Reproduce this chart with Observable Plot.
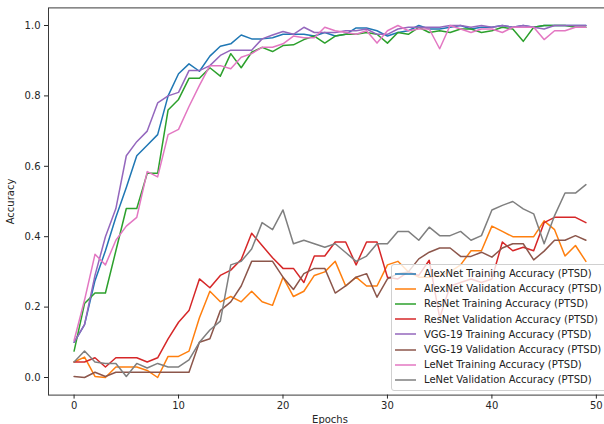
<!DOCTYPE html>
<html>
<head>
<meta charset="utf-8">
<script src="https://cdn.jsdelivr.net/npm/d3@7"></script>
<script src="https://cdn.jsdelivr.net/npm/@observablehq/plot@0.6"></script>
<style>
  html, body { margin: 0; padding: 0; background: #fff; overflow: hidden; }
  #wrap { position: relative; width: 604px; height: 424px; }
  #legend {
    position: absolute; left: 391px; top: 264px; width: 240px;
    padding: 1px 0 2px 0; box-sizing: content-box;
    background: rgba(255,255,255,0.8); border: 1px solid #d0d0d0; border-radius: 3px;
    font-family: "DejaVu Sans", sans-serif; font-size: 10px; color: #222;
  }
  #legend .row { display: flex; align-items: center; height: 15.2px; white-space: nowrap; }
  #legend svg { margin-left: 3px; margin-right: 8px; flex: none; }
</style>
</head>
<body>
<div id="wrap"><div id="chart"></div><div id="legend"></div></div>
<script>
const epochs = [0,1,2,3,4,5,6,7,8,9,10,11,12,13,14,15,16,17,18,19,20,21,22,23,24,25,26,27,28,29,30,31,32,33,34,35,36,37,38,39,40,41,42,43,44,45,46,47,48,49];

const seriesNames = [
  "AlexNet Training Accuracy (PTSD)",
  "AlexNet Validation Accuracy (PTSD)",
  "ResNet Training Accuracy (PTSD)",
  "ResNet Validation Accuracy (PTSD)",
  "VGG-19 Training Accuracy (PTSD)",
  "VGG-19 Validation Accuracy (PTSD)",
  "LeNet Training Accuracy (PTSD)",
  "LeNet Validation Accuracy (PTSD)"
];
const seriesColors = ["#1f77b4","#ff7f0e","#2ca02c","#d62728","#9467bd","#8c564b","#e377c2","#7f7f7f"];

const alexTrain = [0.10,0.15,0.275,0.36,0.455,0.54,0.63,0.66,0.69,0.80,0.863,0.891,0.87,0.913,0.941,0.948,0.973,0.962,0.962,0.965,0.975,0.975,0.975,0.97,0.98,0.97,0.975,0.993,0.993,0.985,0.97,0.98,0.985,1.0,0.99,0.99,0.995,1.0,0.99,0.995,0.995,1.0,0.995,1.0,0.995,1.0,1.0,1.0,1.0,1.0];
const alexVal = [0.044,0.058,0.003,0.0,0.03,0.03,0.03,0.02,0.0,0.06,0.06,0.075,0.17,0.245,0.215,0.23,0.215,0.245,0.215,0.205,0.285,0.23,0.245,0.29,0.30,0.33,0.26,0.285,0.26,0.26,0.32,0.33,0.30,0.285,0.285,0.29,0.30,0.32,0.36,0.36,0.43,0.415,0.40,0.40,0.40,0.445,0.42,0.345,0.375,0.33];
const resTrain = [0.075,0.21,0.24,0.24,0.36,0.48,0.48,0.58,0.58,0.76,0.79,0.85,0.85,0.88,0.856,0.92,0.88,0.924,0.938,0.926,0.943,0.945,0.96,0.97,0.95,0.97,0.975,0.975,0.98,0.975,0.95,0.98,0.975,0.995,0.98,0.985,0.98,0.99,0.99,0.98,0.985,0.995,0.99,0.955,0.995,1.0,1.0,1.0,0.995,0.995];
const resVal = [0.044,0.044,0.056,0.03,0.056,0.056,0.056,0.044,0.056,0.11,0.157,0.19,0.28,0.255,0.29,0.305,0.335,0.41,0.375,0.34,0.31,0.31,0.27,0.345,0.345,0.385,0.385,0.32,0.385,0.385,0.285,0.28,0.30,0.29,0.333,0.17,0.26,0.27,0.28,0.27,0.28,0.385,0.36,0.37,0.36,0.44,0.455,0.455,0.455,0.44];
const vggTrain = [0.10,0.15,0.29,0.40,0.48,0.63,0.67,0.70,0.78,0.80,0.81,0.872,0.872,0.886,0.915,0.93,0.93,0.93,0.962,0.973,0.983,0.975,0.995,0.98,0.98,0.98,0.985,0.985,0.99,0.975,0.975,0.99,0.995,0.995,0.995,0.995,1.0,1.0,0.995,1.0,0.995,1.0,0.995,1.0,0.995,0.99,1.0,1.0,1.0,1.0];
const vggVal = [0.003,0.0,0.015,0.003,0.015,0.015,0.015,0.015,0.015,0.015,0.015,0.015,0.10,0.11,0.19,0.215,0.26,0.33,0.33,0.33,0.285,0.25,0.295,0.31,0.31,0.24,0.26,0.285,0.295,0.228,0.28,0.295,0.30,0.337,0.356,0.368,0.368,0.344,0.344,0.356,0.342,0.368,0.38,0.38,0.334,0.359,0.39,0.39,0.403,0.39];
const leTrain = [0.105,0.22,0.35,0.32,0.39,0.43,0.455,0.585,0.57,0.69,0.705,0.77,0.83,0.886,0.886,0.877,0.91,0.92,0.938,0.938,0.948,0.97,0.965,0.965,0.995,0.985,0.98,0.975,0.985,0.95,0.985,1.0,0.985,0.99,0.99,0.934,1.0,0.99,0.98,0.99,0.99,0.98,0.995,0.995,0.995,0.96,0.985,0.985,0.995,0.995];
const leVal = [0.044,0.075,0.044,0.04,0.04,0.003,0.04,0.027,0.04,0.03,0.03,0.05,0.10,0.135,0.16,0.32,0.33,0.365,0.44,0.42,0.476,0.38,0.39,0.38,0.37,0.38,0.355,0.33,0.345,0.38,0.38,0.415,0.415,0.39,0.427,0.403,0.403,0.415,0.39,0.403,0.476,0.489,0.50,0.479,0.465,0.38,0.46,0.524,0.524,0.548];

const xTicks = [0,10,20,30,40,50];
const yTicks = [0,0.2,0.4,0.6,0.8,1.0];

const seriesValues = [alexTrain, alexVal, resTrain, resVal, vggTrain, vggVal, leTrain, leVal];
const rows = [];
seriesNames.forEach((name, i) => {
  seriesValues[i].forEach((v, j) => rows.push({series: name, epoch: epochs[j], acc: v}));
});

const font = '"DejaVu Sans", sans-serif';
const chart = Plot.plot({
  width: 604,
  height: 424,
  marginLeft: 48,
  marginRight: -7,
  marginTop: 7.4,
  marginBottom: 29.4,
  style: {fontFamily: font, fontSize: "10px", color: "#262626", background: "#fff", overflow: "visible"},
  x: {domain: [-2.45, 51.45], ticks: xTicks},
  y: {domain: [-0.05, 1.05], ticks: yTicks},
  color: {domain: seriesNames, range: seriesColors},
  marks: [
    Plot.line(rows, {x: "epoch", y: "acc", stroke: "series", z: "series", strokeWidth: 1.5}),
    Plot.frame({stroke: "#3a3a3a", strokeWidth: 1}),
    Plot.axisX({ticks: xTicks, tickSize: 4, tickPadding: 3, tickFormat: d3.format("d"),
      label: "Epochs", labelAnchor: "center", labelArrow: "none", labelOffset: 28, fontSize: 10}),
    Plot.axisY({ticks: yTicks, tickSize: 4, tickPadding: 4, tickFormat: d3.format(".1f"),
      label: "Accuracy", labelAnchor: "center", labelArrow: "none", labelOffset: 42, fontSize: 10})
  ]
});
document.getElementById("chart").appendChild(chart);

const legend = document.getElementById("legend");
seriesNames.forEach((name, i) => {
  const row = document.createElement("div");
  row.className = "row";
  row.innerHTML = `<svg width="21" height="6"><line x1="0" y1="3" x2="21" y2="3" stroke="${seriesColors[i]}" stroke-width="1.5"/></svg><span>${name}</span>`;
  legend.appendChild(row);
});
</script>
</body>
</html>
